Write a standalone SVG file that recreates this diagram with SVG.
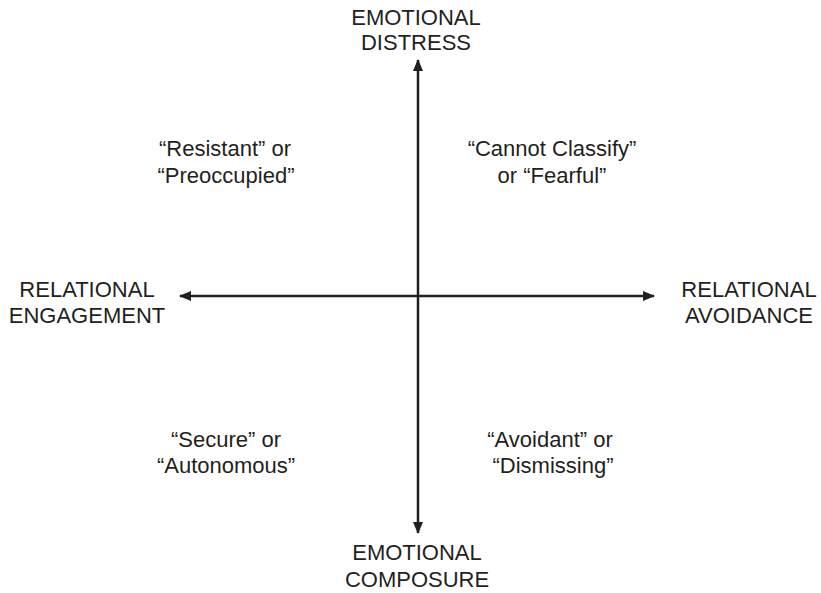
<svg xmlns="http://www.w3.org/2000/svg" width="821" height="593" viewBox="0 0 821 593">
<style>
text{font-family:"Liberation Sans",Arial,sans-serif;font-size:22px;fill:#231f20;text-anchor:middle}
.ax{stroke:#231f20;stroke-width:2.5;fill:none}
</style>
<defs>
<marker id="ah" viewBox="0 0 12 10" refX="11" refY="5" markerWidth="12" markerHeight="10" markerUnits="userSpaceOnUse" orient="auto">
<path d="M0,0 L12,5 L0,10 Z" fill="#231f20"/>
</marker>
</defs>
<rect width="821" height="593" fill="#fff"/>
<g id="connectors">
<line class="ax" x1="418" y1="296" x2="418" y2="60" marker-end="url(#ah)"/>
<line class="ax" x1="418" y1="296" x2="418" y2="533" marker-end="url(#ah)"/>
<line class="ax" x1="418" y1="296" x2="180" y2="296" marker-end="url(#ah)"/>
<line class="ax" x1="418" y1="296" x2="654" y2="296" marker-end="url(#ah)"/>
</g>
<g id="distress"><text x="416" y="25">EMOTIONAL</text><text x="416" y="50">DISTRESS</text></g>
<g id="composure"><text x="417" y="560">EMOTIONAL</text><text x="417" y="587">COMPOSURE</text></g>
<g id="engagement"><text x="87" y="297">RELATIONAL</text><text x="87" y="323">ENGAGEMENT</text></g>
<g id="avoidance"><text x="749" y="297">RELATIONAL</text><text x="749" y="323">AVOIDANCE</text></g>
<g id="preoccupied"><text x="225" y="156">“Resistant” or</text><text x="226" y="183">“Preoccupied”</text></g>
<g id="fearful"><text x="552" y="156">“Cannot Classify”</text><text x="552" y="183">or “Fearful”</text></g>
<g id="secure"><text x="226" y="447">“Secure” or</text><text x="226" y="473">“Autonomous”</text></g>
<g id="dismissing"><text x="550" y="447">“Avoidant” or</text><text x="553" y="473">“Dismissing”</text></g>
</svg>
